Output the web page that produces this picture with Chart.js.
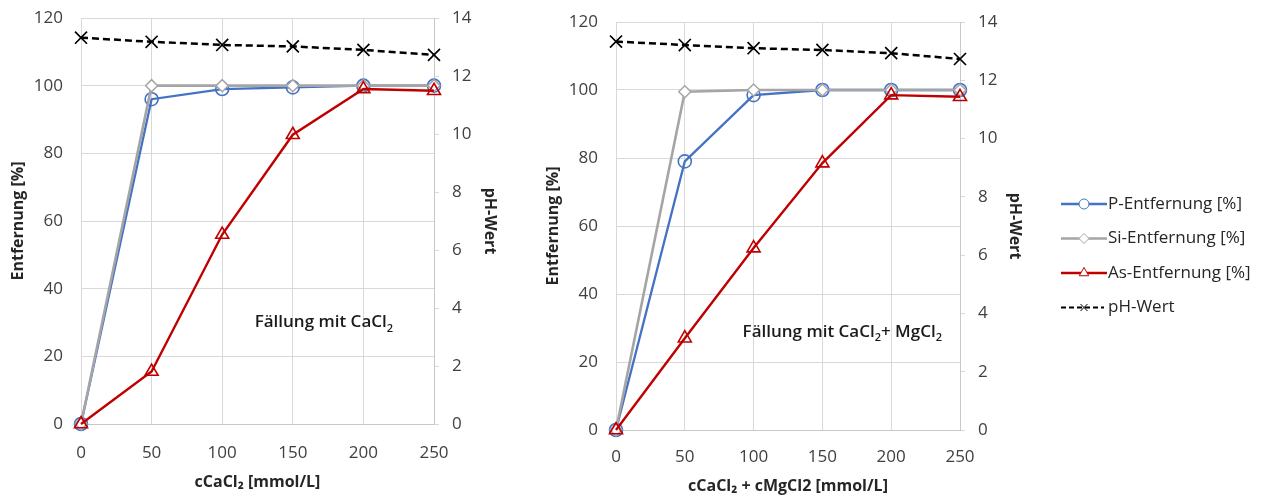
<!DOCTYPE html>
<html>
<head>
<meta charset="utf-8">
<script src="https://cdn.jsdelivr.net/npm/chart.js@4.4.0/dist/chart.umd.min.js"></script>
<style>
    body { margin: 0; background: #fff; width: 1263px; height: 495px; position: relative; overflow: hidden; }
    canvas { position: absolute; top: 0; }
    #chartCa { left: 0; }
    #chartCaMg { left: 530px; }
</style>
</head>
<body>
<canvas id="chartCa" width="520" height="495"></canvas>
<canvas id="chartCaMg" width="733" height="495"></canvas>
<script>
// x values (mmol/L)
var conc = [0, 50, 100, 150, 200, 250];

// Fällung mit CaCl2
var pCa = [0, 96, 99, 99.5, 100, 100];
var siCa = [0, 100, 100, 100, 100, 100];
var asCa = [0, 15.5, 56, 85.5, 99, 98.5];
var phCa = [13.32, 13.18, 13.07, 13.02, 12.9, 12.73];

// Fällung mit CaCl2 + MgCl2
var pCaMg = [0, 79, 98.5, 100, 100, 100];
var siCaMg = [0, 99.5, 100, 100, 100, 100];
var asCaMg = [0, 27, 53.5, 78.5, 98.5, 98];
var phCaMg = [13.33, 13.21, 13.1, 13.04, 12.93, 12.73];

var seriesNames = ['P-Entfernung [%]', 'Si-Entfernung [%]', 'As-Entfernung [%]', 'pH-Wert'];
var leftTicks = [0, 20, 40, 60, 80, 100, 120];
var rightTicks = [0, 2, 4, 6, 8, 10, 12, 14];

var FONT = "'Open Sans', 'Liberation Sans', sans-serif";
var TICK_COLOR = '#404040';
var TITLE_COLOR = '#262626';
var GRID = '#d9d9d9';

function pts(ys) {
    return conc.map(function (x, i) { return { x: x, y: ys[i] }; });
}

function buildDatasets(p, si, as, ph) {
    return [
        {
            label: seriesNames[0], data: pts(p), yAxisID: 'y', order: 3,
            borderColor: '#4472c4', borderWidth: 2.3, pointStyle: 'circle', pointRadius: 6.5,
            pointBorderColor: '#4472c4', pointBackgroundColor: 'rgba(0,0,0,0)', pointBorderWidth: 1.6, clip: false
        },
        {
            label: seriesNames[1], data: pts(si), yAxisID: 'y', order: 2,
            borderColor: '#a5a5a5', borderWidth: 2.6, pointStyle: 'rectRot', pointRadius: 6,
            pointBorderColor: '#a5a5a5', pointBackgroundColor: '#ffffff', pointBorderWidth: 1.5, clip: false
        },
        {
            label: seriesNames[2], data: pts(as), yAxisID: 'y', order: 1,
            borderColor: '#c00000', borderWidth: 2.4, pointStyle: 'triangle', pointRadius: 7.5,
            pointBorderColor: '#c00000', pointBackgroundColor: 'rgba(0,0,0,0)', pointBorderWidth: 1.6, clip: false
        },
        {
            label: seriesNames[3], data: pts(ph), yAxisID: 'y1', order: 0,
            borderColor: '#000000', borderWidth: 2.5, borderDash: [7, 4], pointStyle: 'crossRot', pointRadius: 8.5,
            pointBorderColor: '#000000', pointBorderWidth: 1.7, clip: false
        }
    ];
}

// text label with subscripts, anchored in data coordinates
var notePlugin = {
    id: 'note',
    afterDatasetsDraw: function (chart, args, opts) {
        if (!opts || !opts.parts) return;
        var ctx = chart.ctx;
        var x = chart.scales.x.getPixelForValue(opts.x);
        var y = chart.scales.y.getPixelForValue(opts.y);
        ctx.save();
        ctx.fillStyle = '#1a1a1a';
        ctx.textBaseline = 'middle';
        ctx.textAlign = 'left';
        opts.parts.forEach(function (part) {
            var sub = part[1];
            ctx.font = (sub ? '600 11px ' : '600 17px ') + FONT;
            ctx.fillText(part[0], x, sub ? y + 6 : y);
            x += ctx.measureText(part[0]).width;
        });
        ctx.restore();
    }
};

// Excel-style legend (line with marker), drawn right of the plot
var sideLegend = {
    id: 'sideLegend',
    afterDraw: function (chart, args, opts) {
        if (!opts || !opts.show) return;
        var ctx = chart.ctx;
        var x0 = chart.chartArea.right + 101;
        var y0 = chart.chartArea.top + 182;
        ctx.save();
        chart.data.datasets.forEach(function (ds, i) {
            var y = y0 + i * 34.5;
            var lineEnd = ds.borderDash ? x0 + 43 : x0 + 46;
            ctx.strokeStyle = ds.borderColor;
            ctx.lineWidth = ds.borderDash ? 2.2 : ds.borderWidth;
            ctx.setLineDash(ds.borderDash ? [5, 3] : []);
            ctx.beginPath();
            ctx.moveTo(x0, y);
            ctx.lineTo(lineEnd, y);
            ctx.stroke();
            ctx.setLineDash([]);
            ctx.fillStyle = '#ffffff';
            ctx.strokeStyle = ds.pointBorderColor;
            ctx.lineWidth = 1;
            Chart.helpers.drawPoint(ctx, { pointStyle: ds.pointStyle, radius: ds.pointStyle === 'triangle' ? 5.5 : 5, borderWidth: 1, rotation: 0 }, x0 + 23, y);
            ctx.fillStyle = '#262626';
            ctx.font = '17px ' + FONT;
            ctx.textBaseline = 'middle';
            ctx.fillText(ds.label, x0 + 47, y);
        });
        ctx.restore();
    }
};

function makeChart(canvasId, datasets, xTitle, note, geo) {
    var ctx = document.getElementById(canvasId).getContext('2d');
    return new Chart(ctx, {
        type: 'line',
        data: { datasets: datasets },
        plugins: [notePlugin, sideLegend],
        options: {
            responsive: false,
            animation: false,
            layout: { padding: { top: geo.top, right: geo.padRight, left: 0, bottom: 0 } },
            scales: {
                x: {
                    type: 'linear', min: 0, max: 250,
                    afterBuildTicks: function (s) { s.ticks = conc.map(function (v) { return { value: v }; }); },
                    afterFit: function (s) { s.height = geo.xHeight; },
                    grid: { color: GRID, drawTicks: false },
                    border: { color: '#c8c8c8' },
                    ticks: { padding: geo.xTickPad, color: TICK_COLOR, font: { family: FONT, size: 17 } },
                    title: { display: true, text: xTitle, color: TITLE_COLOR, font: { family: FONT, size: 16, weight: 'bold' }, padding: { top: 0, bottom: geo.xTitlePad } }
                },
                y: {
                    position: 'left', min: 0, max: 120,
                    afterBuildTicks: function (s) { s.ticks = leftTicks.map(function (v) { return { value: v }; }); },
                    afterFit: function (s) { s.width = geo.leftW; s.paddingTop = 0; s.paddingBottom = 0; },
                    grid: { color: GRID, drawTicks: false },
                    border: { color: GRID },
                    ticks: { padding: 18, color: TICK_COLOR, font: { family: FONT, size: 17 } },
                    title: { display: true, text: 'Entfernung [%]', color: TITLE_COLOR, font: { family: FONT, size: 16, weight: 'bold' }, padding: { top: geo.leftTitlePad, bottom: 0 } }
                },
                y1: {
                    position: 'right', min: 0, max: 14,
                    afterBuildTicks: function (s) { s.ticks = rightTicks.map(function (v) { return { value: v }; }); },
                    afterFit: function (s) { s.width = geo.rightW; s.paddingTop = 0; s.paddingBottom = 0; },
                    grid: { drawOnChartArea: false, drawTicks: true, tickLength: 5, color: GRID },
                    border: { color: '#c8c8c8' },
                    ticks: { padding: 13, color: TICK_COLOR, font: { family: FONT, size: 17 } },
                    title: { display: true, text: 'pH-Wert', color: TITLE_COLOR, font: { family: FONT, size: 16, weight: 'bold' }, padding: { top: geo.rightTitlePad, bottom: 0 } }
                }
            },
            plugins: {
                legend: { display: false },
                tooltip: { enabled: false },
                note: note,
                sideLegend: { show: geo.legend }
            }
        }
    });
}

makeChart('chartCa', buildDatasets(pCa, siCa, asCa, phCa), 'cCaCl\u2082 [mmol/L]',
    { x: 123, y: 30, parts: [['Fällung mit CaCl', false], ['2', true]] },
    { top: 18, padRight: 0, xHeight: 71, xTickPad: 19, xTitlePad: 3, leftW: 81, rightW: 86, leftTitlePad: 8.5, rightTitlePad: 20.5, legend: false });

makeChart('chartCaMg', buildDatasets(pCaMg, siCaMg, asCaMg, phCaMg), 'cCaCl\u2082 + cMgCl2 [mmol/L]',
    { x: 92, y: 28.8, parts: [['Fällung mit CaCl', false], ['2', true], ['+ MgCl', false], ['2', true]] },
    { top: 22, padRight: 217, xHeight: 65, xTickPad: 17, xTitlePad: -1.5, leftW: 86, rightW: 86, leftTitlePad: 13.5, rightTitlePad: 21.5, legend: true });
</script>
</body>
</html>
